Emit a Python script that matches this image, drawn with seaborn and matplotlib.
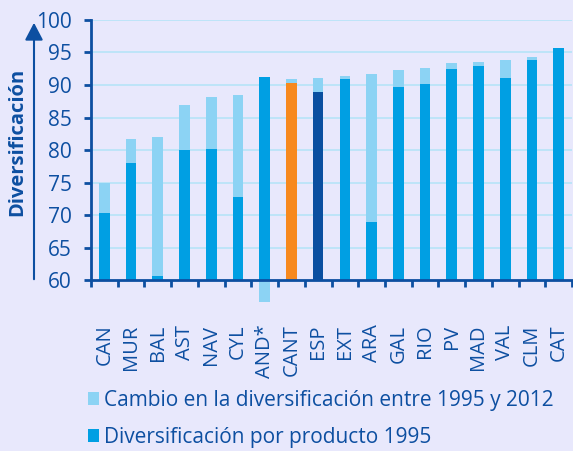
import numpy as np
import pandas as pd
import matplotlib
matplotlib.use("Agg")
import matplotlib.pyplot as plt
from matplotlib.patches import Patch, FancyArrowPatch
import seaborn as sns

# Regions and product diversification index
regions = ["CAN", "MUR", "BAL", "AST", "NAV", "CYL", "AND*", "CANT", "ESP",
           "EXT", "ARA", "GAL", "RIO", "PV", "MAD", "VAL", "CLM", "CAT"]
div_1995 = [70.3, 78.0, 60.7, 80.0, 80.2, 72.8, 91.2, 90.3, 88.9,
            90.9, 68.9, 89.7, 90.2, 92.5, 92.9, 91.1, 93.9, 95.7]
change_1995_2012 = [4.6, 3.7, 21.3, 7.0, 7.9, 15.7, -3.3, 0.6, 2.2,
                    0.5, 22.8, 2.6, 2.4, 0.9, 0.7, 2.8, 0.4, 0.0]

legend_labels = ["Cambio en la diversificación entre 1995 y 2012",
                 "Diversificación por producto 1995"]
y_ticks = [60, 65, 70, 75, 80, 85, 90, 95, 100]
y_title = "Diversificación"

BG = "#e8e8fc"
NAVY = "#0d4fa1"
BRIGHT = "#009fe3"
LIGHT = "#8cd3f4"
ORANGE = "#f7891e"
DARK_BAR = "#0a4fa0"
GRID = "#bde4f8"

sns.set_theme(style="white")
plt.rcParams["font.family"] = ["Open Sans", "DejaVu Sans"]

df = pd.DataFrame({"region": regions, "base": div_1995, "change": change_1995_2012})
y_floor = y_ticks[0]
df["bottom"] = np.where(df["change"] >= 0, df["base"], y_floor)

bar_colors = {r: BRIGHT for r in regions}
bar_colors["CANT"] = ORANGE
bar_colors["ESP"] = DARK_BAR

fig = plt.figure(figsize=(5.73, 4.51), dpi=100, facecolor=BG)
ax = fig.add_axes([91 / 573, 0.379, 481 / 573, 0.5767])
ax.set_facecolor(BG)

for y in y_ticks[1:]:
    ax.axhline(y, color=GRID, lw=1.4, zorder=0)

sns.barplot(data=df, x="region", y="base", hue="region", palette=bar_colors,
            order=regions, hue_order=regions, width=0.4, legend=False,
            linewidth=0, saturation=1, ax=ax, zorder=2)
sns.barplot(data=df, x="region", y="change", color=LIGHT, order=regions,
            width=0.4, bottom=df["bottom"].to_numpy(), linewidth=0,
            saturation=1, clip_on=False, ax=ax, zorder=2)

ax.set_ylim(y_floor, 100)
ax.set_xlim(-0.5, len(regions) - 0.5)
ax.set_yticks(y_ticks)
ax.set_xlabel("")
ax.set_ylabel("")

for side in ["top", "right"]:
    ax.spines[side].set_visible(False)
for side in ["left", "bottom"]:
    ax.spines[side].set_color(NAVY)
    ax.spines[side].set_linewidth(2)

ax.tick_params(axis="y", direction="out", length=5, width=2, color=NAVY,
               labelcolor=NAVY, labelsize=15, pad=9, left=True)
ax.set_xticks(range(len(regions)))
ax.set_xticklabels(regions, rotation=90, va="top")
ax.tick_params(axis="x", which="major", length=0, labelcolor=NAVY,
               labelsize=14.5, pad=32)
ax.set_xticks(np.arange(-0.5, len(regions), 1.0), minor=True)
ax.tick_params(axis="x", which="minor", direction="out", length=5, width=2,
               color=NAVY, bottom=True)

# vertical axis title with arrow
fig.text(17 / 573, 1 - 142 / 451, y_title, rotation=90, ha="center", va="center",
         color=NAVY, fontsize=14.5, fontweight="bold")
fig.add_artist(FancyArrowPatch(
    (34 / 573, 1 - 282 / 451), (34 / 573, 1 - 20 / 451),
    transform=fig.transFigure, arrowstyle="-|>,head_length=0.42,head_width=0.22",
    mutation_scale=25, color=NAVY, lw=1.5))

handles = [Patch(facecolor=LIGHT, edgecolor="none"),
           Patch(facecolor=BRIGHT, edgecolor="none")]
fig.legend(handles, legend_labels, loc="upper left",
           bbox_to_anchor=(88 / 573, 1 - 390 / 451), bbox_transform=fig.transFigure,
           frameon=False, fontsize=15, handlelength=0.55, handleheight=0.55,
           handletextpad=0.2, labelspacing=0.75, borderpad=0, borderaxespad=0,
           labelcolor=NAVY)

fig.savefig("out.png", dpi=100, facecolor=BG)
